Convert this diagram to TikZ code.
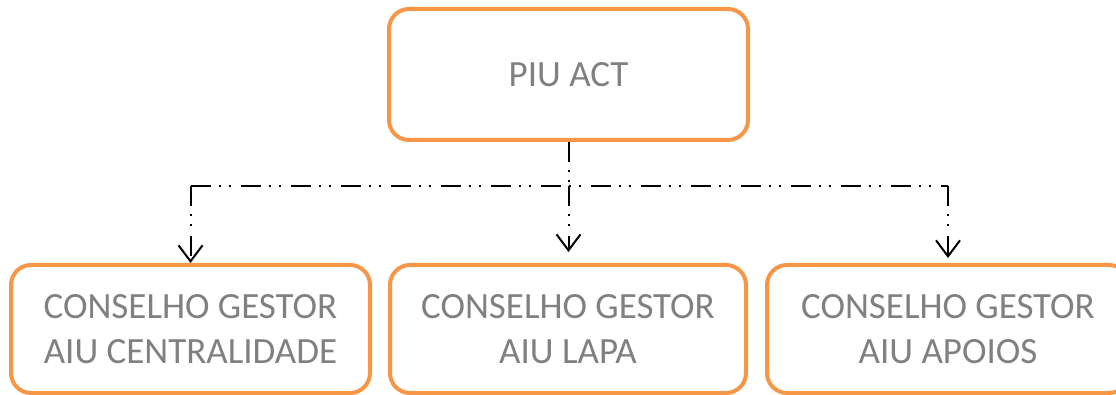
\documentclass[tikz,border=0pt]{standalone}
\usepackage{fontspec}
\setmainfont{Carlito}
\usetikzlibrary{arrows.meta,calc}
\definecolor{boxorange}{RGB}{247,150,70}
\definecolor{boxtext}{RGB}{128,128,128}

\begin{document}
\begin{tikzpicture}[x=1pt,y=-1pt,>={Straight Barb[length=16pt,width=24pt,line width=2pt]},
  unit/.style={draw=boxorange,line width=4pt,rounded corners=20pt,align=center,text=boxtext,font=\fontsize{37}{45}\selectfont,minimum height=128pt,inner sep=0pt},
  link/.style={line width=2pt,dash pattern=on 20pt off 8pt on 2pt off 8pt on 2pt off 10pt}]
\useasboundingbox (0,0) rectangle (1116,395);
\node[unit,minimum width=359pt,minimum height=131pt] (piu) at (568.5,74.5) {PIU ACT};
\node[unit,minimum width=359pt] (cent) at (190.5,329) {CONSELHO GESTOR\\AIU CENTRALIDADE};
\node[unit,minimum width=356pt] (lapa) at (568,329) {CONSELHO GESTOR\\AIU LAPA};
\node[unit,minimum width=362pt] (apoi) at (948,329) {CONSELHO GESTOR\\AIU APOIOS};
% bus between the top unit and the three councils
\draw[link] (piu.south) -- ++(0,44) coordinate (hub);
\coordinate (busL) at (cent.north |- hub); \coordinate (busR) at (apoi.north |- hub);
\draw[link] (busL) -- (busR);
\draw[link,->] (busL) -- (cent.north);
\draw[link,->,shorten >=11pt] (hub) -- (hub |- lapa.north);
\draw[link,->,shorten >=5pt] (busR) -- (apoi.north);
\end{tikzpicture}
\end{document}
